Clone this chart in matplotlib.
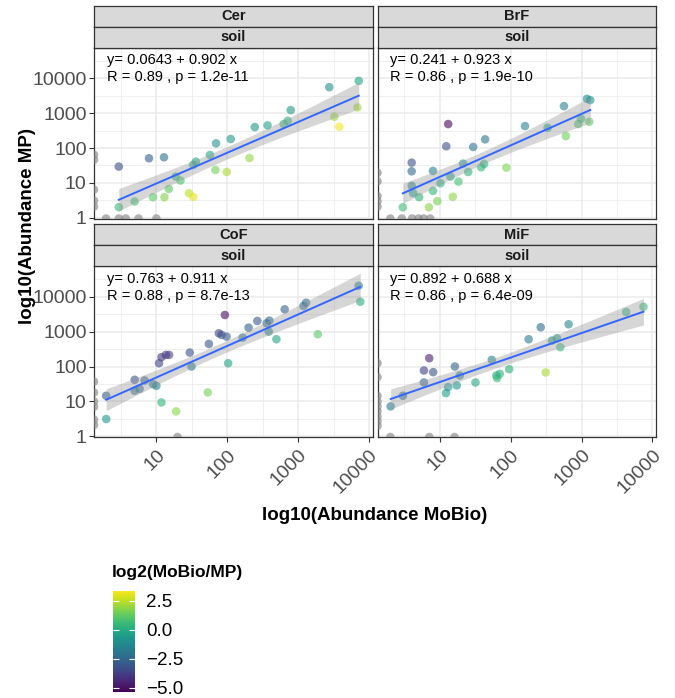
import numpy as np
import matplotlib
matplotlib.use("Agg")
import matplotlib.pyplot as plt
from matplotlib import ticker
from matplotlib.colors import Normalize

plt.rcParams['font.family'] = ['Liberation Sans', 'DejaVu Sans']

# ---------------- data ----------------
panels = ["Cer", "BrF", "CoF", "MiF"]
subtitle = "soil"

# 0 = zero abundance (drawn on panel edge, grey NA colour)
cer_mobio = [2.95, 2.95, 4.93, 7.87, 8.97, 12.8, 13.0, 15.0, 18.8, 21.9, 28.8, 33.1, 33.1, 36.1, 57.1,
             68.0, 69.5, 98.4, 112, 206, 245, 371, 626, 713, 787, 2754, 3243, 3818, 6871, 7178,
             0, 0, 0, 0, 0, 1.95, 2.95, 3.7, 5.6, 10.0]
cer_mp = [29.3, 2.02, 2.93, 50.7, 3.89, 54.1, 3.89, 6.74, 15.2, 11.7, 5.07, 3.98, 32.7, 40.7, 63.1,
          23.5, 136, 20.6, 181, 51.8, 398, 444, 485, 604, 1218, 5530, 786, 407, 1452, 8395,
          64, 46, 6.4, 3.1, 2.1, 0, 0, 0, 0, 0]

brf_mobio = [3.0, 4.0, 4.0, 4.0, 4.2, 5.1, 7.0, 8.0, 8.0, 9.2, 10.2, 12.3, 13.1, 14.1, 15.2, 18.3,
             21.3, 25.1, 29.5, 38.2, 42.1, 43.5, 86.9, 159, 332, 564, 601, 897, 979, 1189, 1324, 1282,
             0, 0, 0, 0, 0, 2.0, 2.9, 4.05, 5.0, 5.9, 7.3]
brf_mp = [2.0, 38.1, 21.5, 8.2, 5.1, 3.9, 2.0, 22.0, 5.9, 3.0, 9.8, 112, 485, 15.2, 4.0, 10.9,
          35.7, 20.6, 107, 28.0, 34.9, 177, 27.4, 425, 381, 1585, 220, 485, 689, 2570, 2352, 565,
          19.4, 11.1, 4.2, 3.0, 2.1, 0, 0, 0, 0, 0, 0]

cof_mobio = [1.96, 1.96, 4.94, 4.94, 5.81, 6.84, 8.97, 10.0, 10.9, 11.8, 11.8, 13.6, 15.1, 19.0, 29.6,
             31.3, 53.2, 55.1, 76.2, 83.2, 92.7, 97.9, 103, 165, 200, 266, 361, 393, 385, 494, 647,
             1189, 1297, 1897, 7145, 7540,
             0, 0, 0, 0, 0, 0, 19.9]
cof_mp = [3.13, 14.5, 41.6, 20.2, 23.0, 39.8, 31.3, 28.0, 124, 9.36, 185, 215, 215, 5.18, 251,
          100, 18.1, 444, 896, 803, 2994, 720, 124, 674, 1300, 2018, 1730, 2062, 1000, 604, 4347,
          5412, 6740, 839, 20620, 7197,
          37, 18, 10, 7, 3.0, 2.1, 0]

mif_mobio = [2.02, 3.01, 5.96, 5.96, 7.08, 8.05, 12.2, 13.1, 16.3, 17.3, 19.1, 31.8, 54.0, 62.8, 70.0,
             64.3, 94.9, 179, 265, 311, 382, 449, 501, 656, 4256, 7464,
             0, 0, 0, 0, 0, 0, 0, 0, 0, 2.0, 7.1, 16.1]
mif_mp = [7.2, 14.5, 34.9, 76.9, 173, 68.9, 17.3, 25.7, 100, 28.7, 55.3, 34.9, 155, 55.3, 61.7,
          46.4, 83.9, 604, 1330, 67.4, 553, 645, 357, 1622, 3648, 5176,
          125, 50, 14.5, 10, 7.2, 5.2, 3.7, 2.7, 2.0, 0, 0, 0]

eq_labels = ["y= 0.0643 + 0.902 x", "y= 0.241 + 0.923 x", "y= 0.763 + 0.911 x", "y= 0.892 + 0.688 x"]
r_labels = ["R = 0.89 , p = 1.2e-11", "R = 0.86 , p = 1.9e-10", "R = 0.88 , p = 8.7e-13",
            "R = 0.86 , p = 6.4e-09"]

x_ticks = [10, 100, 1000, 10000]
x_ticklabels = ["10", "100", "1000", "10000"]
y_ticks = [1, 10, 100, 1000, 10000]
y_ticklabels = ["1", "10", "100", "1000", "10000"]
cbar_ticks = [2.5, 0.0, -2.5, -5.0]
cbar_ticklabels = ["2.5", "0.0", "\u22122.5", "\u22125.0"]

data = [(cer_mobio, cer_mp), (brf_mobio, brf_mp), (cof_mobio, cof_mp), (mif_mobio, mif_mp)]

# ---------------- style / layout ----------------
W, H = 675, 698
XLIM = (10 ** 0.12, 10 ** 4.05)
YLIM = (10 ** -0.02, 10 ** 4.88)
VMIN, VMAX = -5.35, 3.4
cmap = plt.get_cmap("viridis")
norm = Normalize(VMIN, VMAX)

def fx(px):
    return px / W

def fy(py):
    return 1 - py / H

fig = plt.figure(figsize=(W / 100, H / 100), dpi=100, facecolor="white")

col_left = [94, 377.5]
row_top = [47.5, 266]
pw, ph = 278.5, 171
strip_h = 21


def tquant(nu):
    z = 1.959964
    return (z + (z ** 3 + z) / (4 * nu) + (5 * z ** 5 + 16 * z ** 3 + 3 * z) / (96 * nu ** 2)
            + (3 * z ** 7 + 19 * z ** 5 + 17 * z ** 3 - 15 * z) / (384 * nu ** 3))


for i, name in enumerate(panels):
    r, c = divmod(i, 2)
    L, T = col_left[c], row_top[r]
    ax = fig.add_axes([fx(L), fy(T + ph), pw / W, ph / H])
    ax.set_xscale("log")
    ax.set_yscale("log")
    ax.set_xlim(*XLIM)
    ax.set_ylim(*YLIM)
    ax.set_facecolor("white")

    # grid
    ax.xaxis.set_major_locator(ticker.FixedLocator(x_ticks))
    ax.yaxis.set_major_locator(ticker.FixedLocator(y_ticks))
    ax.xaxis.set_minor_locator(ticker.FixedLocator([10 ** (k + 0.5) for k in range(0, 5)]))
    ax.yaxis.set_minor_locator(ticker.FixedLocator([10 ** (k + 0.5) for k in range(0, 5)]))
    ax.grid(True, which="major", color="#EBEBEB", linewidth=1.1, zorder=0)
    ax.grid(True, which="minor", color="#EBEBEB", linewidth=0.55, zorder=0)
    ax.set_axisbelow(True)
    ax.tick_params(which="minor", length=0)
    ax.tick_params(which="major", length=3.8, width=0.8, color="#333333", labelcolor="#4D4D4D",
                   labelsize=14, pad=1.5)
    if r == 1:
        ax.xaxis.set_major_formatter(ticker.FixedFormatter(x_ticklabels))
        ax.tick_params(axis="x", which="major", pad=3)
        for lab in ax.get_xticklabels():
            lab.set_rotation(45)
            lab.set_ha("right")
            lab.set_va("top")
            lab.set_rotation_mode("anchor")
    else:
        ax.tick_params(axis="x", which="major", length=0, labelbottom=False)
    if c == 0:
        ax.yaxis.set_major_formatter(ticker.FixedFormatter(y_ticklabels))
    else:
        ax.tick_params(axis="y", which="major", length=0, labelleft=False)
    ax.xaxis.set_minor_formatter(ticker.NullFormatter())
    ax.yaxis.set_minor_formatter(ticker.NullFormatter())
    for s in ax.spines.values():
        s.set_color("#333333")
        s.set_linewidth(0.9)

    mob = np.array(data[i][0], dtype=float)
    mp = np.array(data[i][1], dtype=float)
    ok = (mob > 0) & (mp > 0)
    xp = np.where(mob > 0, mob, XLIM[0])
    yp = np.where(mp > 0, mp, YLIM[0])
    cols = []
    for k in range(len(mob)):
        if ok[k]:
            cols.append(cmap(norm(np.log2(mob[k] / mp[k]))))
        else:
            cols.append((0.5, 0.5, 0.5, 1.0))
    ax.scatter(xp, yp, s=38, c=cols, alpha=0.6, linewidths=0, zorder=3, clip_on=True)

    # linear fit in log space with 95% CI
    lx = np.log10(mob[ok])
    ly = np.log10(mp[ok])
    n = len(lx)
    b, a = np.polyfit(lx, ly, 1)
    res = ly - (a + b * lx)
    s = np.sqrt(np.sum(res ** 2) / (n - 2))
    sxx = np.sum((lx - lx.mean()) ** 2)
    gx = np.linspace(lx.min(), lx.max(), 80)
    gy = a + b * gx
    se = s * np.sqrt(1 / n + (gx - lx.mean()) ** 2 / sxx)
    t = tquant(n - 2)
    ax.fill_between(10 ** gx, 10 ** (gy - t * se), 10 ** (gy + t * se), color="#999999", alpha=0.4,
                    linewidth=0, zorder=4)
    ax.plot(10 ** gx, 10 ** gy, color="#3366FF", linewidth=1.4, zorder=5)

    ax.text(0.045, 1 - 12.8 / ph, eq_labels[i], transform=ax.transAxes, fontsize=10.5,
            ha="left", va="center", color="black", zorder=6)
    ax.text(0.045, 1 - 29.8 / ph, r_labels[i], transform=ax.transAxes, fontsize=10.5,
            ha="left", va="center", color="black", zorder=6)

    # strips
    for j, lab in enumerate([name, subtitle]):
        top = T - 2 * strip_h + j * strip_h
        sax = fig.add_axes([fx(L), fy(top + strip_h), pw / W, strip_h / H])
        sax.set_xlim(0, 1)
        sax.set_ylim(0, 1)
        sax.set_xticks([])
        sax.set_yticks([])
        sax.set_facecolor("#D9D9D9")
        for sp in sax.spines.values():
            sp.set_color("#333333")
            sp.set_linewidth(0.9)
        sax.text(0.5, 0.48, lab, ha="center", va="center", fontsize=10.5, fontweight="bold",
                 color="#1A1A1A")

# axis titles
fig.text(fx(28), fy(226), "log10(Abundance MP)", rotation=90, ha="center", va="center",
         fontsize=13.5, fontweight="bold")
fig.text(fx(375), fy(515), "log10(Abundance MoBio)", ha="center", va="center",
         fontsize=13.5, fontweight="bold")

# colour bar legend
fig.text(fx(112), fy(572), "log2(MoBio/MP)", ha="left", va="center", fontsize=12.5,
         fontweight="bold")
cax = fig.add_axes([fx(113), fy(692), 22 / W, 101.5 / H])
sm = plt.cm.ScalarMappable(norm=norm, cmap=cmap)
cb = fig.colorbar(sm, cax=cax, ticks=cbar_ticks)
cb.outline.set_visible(False)
cb.ax.set_yticklabels(cbar_ticklabels)
cb.ax.tick_params(direction="in", color="white", length=4.5, width=0.8, left=True, right=True,
                  labelsize=13.5, labelcolor="black", pad=8)

fig.savefig("out.png", dpi=100, facecolor="white")
